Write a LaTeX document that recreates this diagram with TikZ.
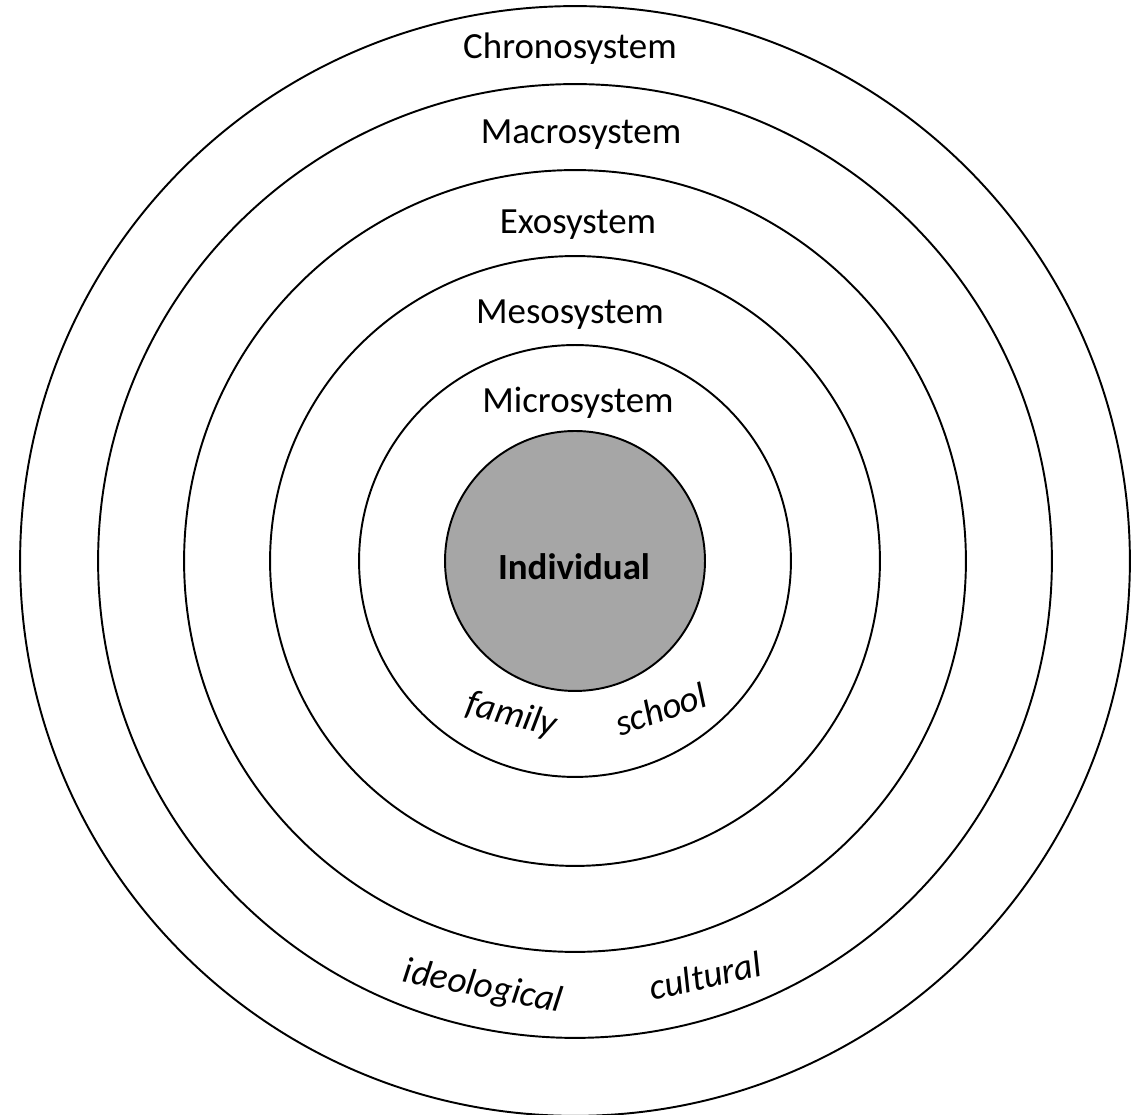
\documentclass[tikz,border=0pt]{standalone}
\usepackage{fontspec}
\setmainfont{Carlito}
\definecolor{coregray}{HTML}{A6A6A6}
\tikzset{
  ring/.style={draw,circle,line width=1.1pt,inner sep=0pt,outer sep=0pt},
  lbl/.style={anchor=base,inner sep=0pt,font=\fontsize{21}{25}\selectfont},
  arclbl/.style={lbl,font=\fontsize{21}{25}\selectfont\itshape}
}
\begin{document}
\begin{tikzpicture}[x=0.02cm,y=0.02cm]
  \useasboundingbox (0,0) rectangle (1147,1115);
  \coordinate (c) at (575,554);
  % rings, outer to inner
  \node[ring,minimum size=22.2cm] (chrono) at (c) {};
  \node[ring,minimum size=19.08cm] (macro) at (c) {};
  \node[ring,minimum size=15.64cm] (exo) at (c) {};
  \node[ring,minimum size=12.2cm] (meso) at (c) {};
  \node[ring,minimum size=8.64cm] (micro) at (c) {};
  \node[ring,fill=coregray,minimum size=5.2cm] (indiv) at (c) {};
  % system names
  \node[lbl] (chronolbl) at (570,1056) {Chronosystem};
  \node[lbl] (macrolbl) at (581,971) {Macrosystem};
  \node[lbl] (exolbl) at (578,881) {Exosystem};
  \node[lbl] (mesolbl) at (570,791) {Mesosystem};
  \node[lbl] (microlbl) at (578,702) {Microsystem};
  \node[lbl,font=\fontsize{21}{25}\selectfont\bfseries] (indivlbl) at (574,535) {Individual};
  % examples
  \node[arclbl,rotate=-14] (family) at (509,390) {family};
  \node[arclbl,rotate=19] (school) at (665,394) {school};
  \node[arclbl,rotate=-11] (ideo) at (481,118) {ideological};
  \node[arclbl,rotate=13] (cult) at (708,127) {cultural};
\end{tikzpicture}
\end{document}
